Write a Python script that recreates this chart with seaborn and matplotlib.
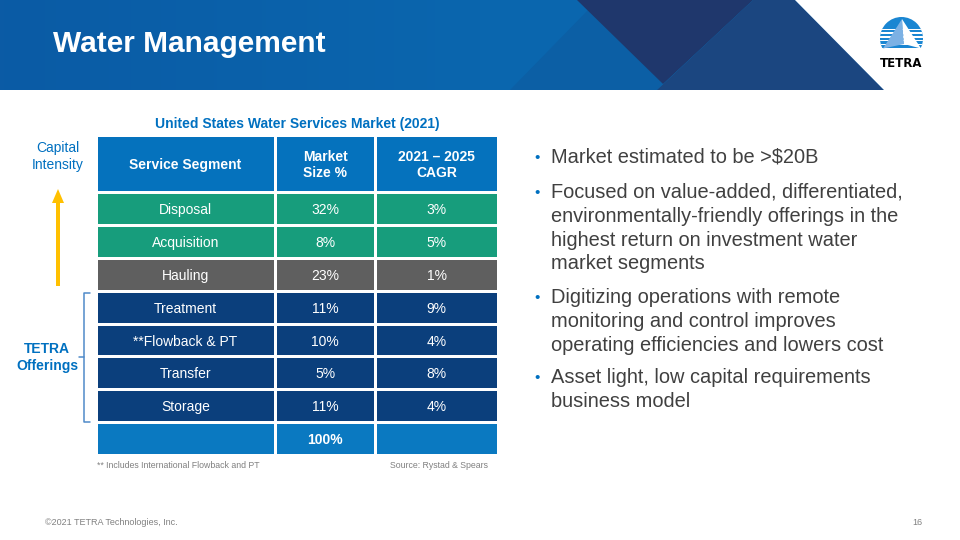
import numpy as np
import pandas as pd
import seaborn as sns
import matplotlib
matplotlib.use("Agg")
import matplotlib.pyplot as plt
from matplotlib.colors import ListedColormap, LinearSegmentedColormap
from matplotlib.patches import Polygon, Rectangle, Circle, FancyArrow

# ---------------- data ----------------
title = "Water Management"
table_title = "United States Water Services Market (2021)"
headers = ["Service Segment", "Market\nSize %", "2021 – 2025\nCAGR"]
segments = ["Disposal", "Acquisition", "Hauling", "Treatment", "**Flowback & PT",
            "Transfer", "Storage", ""]
market_size = ["32%", "8%", "23%", "11%", "10%", "5%", "11%", "100%"]
cagr = ["3%", "5%", "1%", "9%", "4%", "8%", "4%", ""]
groups = ["water", "water", "hauling", "tetra", "tetra", "tetra", "tetra", "total"]
bullets = [
    ["Market estimated to be >$20B"],
    ["Focused on value-added, differentiated,",
     "environmentally-friendly offerings in the",
     "highest return on investment water",
     "market segments"],
    ["Digitizing operations with remote",
     "monitoring and control improves",
     "operating efficiencies and lowers cost"],
    ["Asset light, low capital requirements",
     "business model"],
]
footnote = "** Includes International Flowback and PT"
source = "Source: Rystad & Spears"
footer = "©2021 TETRA Technologies, Inc."
page = "16"

# ---------------- style ----------------
sns.set_theme(style="white")
plt.rcParams["font.family"] = ["Liberation Sans", "DejaVu Sans"]

BLUE = "#0070c0"
header_color = "#0572bd"
group_colors = {"water": "#179d7c", "hauling": "#5f5f5f", "tetra": "#0b3f7c", "total": "#0a79c1"}
group_order = ["water", "hauling", "tetra", "total"]
TXT = "#404040"

W, H = 960, 540
fig = plt.figure(figsize=(9.6, 5.4), dpi=100)
bg = fig.add_axes([0, 0, 1, 1])
bg.set_xlim(0, W)
bg.set_ylim(H, 0)
bg.axis("off")


def px_axes(x0, y0, x1, y1):
    ax = fig.add_axes([x0 / W, 1 - y1 / H, (x1 - x0) / W, (y1 - y0) / H])
    ax.patch.set_alpha(0)
    return ax


# ---------------- banner ----------------
grad = np.linspace(0, 1, 256).reshape(1, -1)
bcmap = LinearSegmentedColormap.from_list("b", ["#0b5ba5", "#0a66ae", "#0a6ab1"])
bg.imshow(grad, extent=[0, W, 90, 0], cmap=bcmap, aspect="auto", zorder=0)
bg.add_patch(Polygon([(510, 90), (588, 10), (663, 84), (657, 90)], closed=True,
                     fc="#0c5fa5", ec="none", zorder=1))
bg.add_patch(Polygon([(577, 0), (753, 0), (663, 84)], closed=True,
                     fc="#1f376c", ec="none", zorder=1))
bg.add_patch(Polygon([(753, 0), (795, 0), (884, 90), (657, 90)], closed=True,
                     fc="#1b4680", ec="none", zorder=1))
bg.add_patch(Polygon([(795, 0), (960, 0), (960, 90), (884, 90)], closed=True,
                     fc="white", ec="none", zorder=1))
bg.text(53, 52, title, color="white", fontsize=21.5, fontweight="bold",
        ha="left", va="baseline", zorder=3)

# logo
clip = Rectangle((870, 10), 70, 38, transform=bg.transData)
circ = Circle((901.5, 38.5), 21.5, fc="#1a86d2", ec="none", zorder=2)
bg.add_patch(circ)
circ.set_clip_path(clip)
for yy in [28.5, 32.3, 36.1, 39.9, 43.7]:
    r = Rectangle((876, yy), 52, 1.4, fc="white", ec="none", zorder=3)
    bg.add_patch(r)
    r.set_clip_path(circ)
bg.add_patch(Polygon([(902, 19), (883, 48.5), (904, 44)], closed=True,
                     fc="#7cb1e4", ec="none", zorder=4))
bg.add_patch(Polygon([(902, 19), (904, 44), (921, 48.5)], closed=True,
                     fc="white", ec="none", zorder=4))
bg.text(901.5, 67, "TETRA", color="black", fontsize=8.5, fontweight="bold",
        family="DejaVu Sans", ha="center", va="baseline", zorder=4)

# ---------------- table ----------------
bg.text(297, 128, table_title, color=BLUE, fontsize=10, fontweight="bold",
        ha="center", va="baseline")

col_edges = [96, 275, 375, 498]
hdr_top, hdr_bot, body_bot = 135, 192, 455
codes = np.array([group_order.index(g) for g in groups]).reshape(-1, 1)
body_cmap = ListedColormap([group_colors[g] for g in group_order])
columns = [segments, market_size, cagr]

for j in range(3):
    x0, x1 = col_edges[j], col_edges[j + 1]
    axh = px_axes(x0, hdr_top, x1, hdr_bot)
    sns.heatmap(pd.DataFrame([[0]]), ax=axh, cmap=ListedColormap([header_color]),
                vmin=-0.5, vmax=0.5, cbar=False, linewidths=1.0, linecolor="white",
                xticklabels=False, yticklabels=False)
    axh.text(0.5, 0.52, headers[j], ha="center", va="center", color="white",
             fontsize=10, fontweight="bold", linespacing=1.2)
    axb = px_axes(x0, hdr_bot, x1, body_bot)
    sns.heatmap(pd.DataFrame(codes), ax=axb, cmap=body_cmap, vmin=-0.5,
                vmax=len(group_order) - 0.5, cbar=False, linewidths=1.0,
                linecolor="white", xticklabels=False, yticklabels=False)
    for i, txt in enumerate(columns[j]):
        axb.text(0.5, i + 0.55, txt, ha="center", va="center", color="white",
                 fontsize=10, fontweight="bold" if groups[i] == "total" else "normal")

bg.text(97, 468, footnote, color="#808080", fontsize=6.3, ha="left", va="baseline")
bg.text(488, 468, source, color="#808080", fontsize=6.3, ha="right", va="baseline")

# left annotations
bg.text(58, 152, "Capital", color=BLUE, fontsize=10, ha="center", va="baseline")
bg.text(58, 169, "Intensity", color=BLUE, fontsize=10, ha="center", va="baseline")
bg.add_patch(FancyArrow(58, 286, 0, -97, width=4, head_width=12, head_length=14,
                        length_includes_head=True, fc="#ffc000", ec="none"))
bg.text(47, 353, "TETRA", color=BLUE, fontsize=10, fontweight="bold",
        ha="center", va="baseline")
bg.text(47, 370, "Offerings", color=BLUE, fontsize=10, fontweight="bold",
        ha="center", va="baseline")
bcol = "#4f8ac9"
bg.plot([90, 84, 84, 90], [293, 293, 422, 422], color=bcol, lw=1.1,
        solid_joinstyle="round")
bg.plot([79, 84], [357, 357], color=bcol, lw=1.1)

# ---------------- bullets ----------------
baselines = [[163], [198, 222, 246, 269], [303, 327, 351], [383, 407]]
for blines, ys in zip(bullets, baselines):
    bg.text(537, ys[0] - 1, "•", color=BLUE, fontsize=11, ha="center", va="baseline")
    for line, y in zip(blines, ys):
        bg.text(551, y, line, color=TXT, fontsize=14.4, ha="left", va="baseline")

# ---------------- footer ----------------
bg.text(45, 525, footer, color="#808080", fontsize=6.5, ha="left", va="baseline")
bg.text(922, 525, page, color="#808080", fontsize=6.5, ha="right", va="baseline")

fig.savefig("out.png", dpi=100)
